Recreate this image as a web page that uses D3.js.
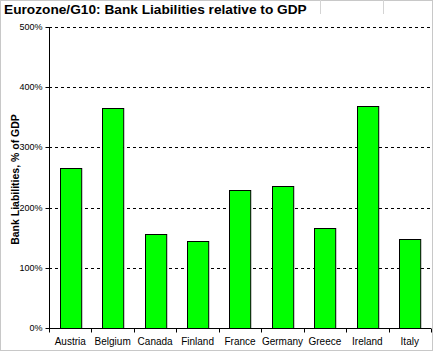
<!DOCTYPE html>
<html><head><meta charset="utf-8">
<script src="https://cdn.jsdelivr.net/npm/d3@7"></script>
<style>body{margin:0;background:#fff}svg{display:block}</style>
</head><body>
<script>
const categories = ["Austria","Belgium","Canada","Finland","France","Germany","Greece","Ireland","Italy"];
const values = [266, 365, 156, 145, 230, 236, 166, 369, 148];
const yTicks = [0, 100, 200, 300, 400, 500];
const title = "Eurozone/G10: Bank Liabilities relative to GDP";
const yTitle = "Bank Liabilities, % of GDP";

const W = 434, H = 352;
const m = {left: 49, right: 3, top: 27, bottom: 24};
const svg = d3.select("body").append("svg").attr("width", W).attr("height", H);

// frame
svg.append("rect").attr("x",0.5).attr("y",0.5).attr("width",432).attr("height",350)
  .attr("fill","#fff").attr("stroke","#c8c8c8");
svg.append("line").attr("x1",320.5).attr("x2",320.5).attr("y1",0).attr("y2",14).attr("stroke","#d4d4d4");
svg.append("line").attr("x1",383.5).attr("x2",383.5).attr("y1",0).attr("y2",14).attr("stroke","#d4d4d4");

const x = d3.scaleBand().domain(categories).range([m.left, W - m.right]).paddingInner(0.5).paddingOuter(0.25);
const y = d3.scaleLinear().domain([0, 500]).range([H - m.bottom - 0, m.top]);

// gridlines
svg.append("g").selectAll("line").data(yTicks.filter(d => d > 0)).join("line")
  .attr("x1", m.left).attr("x2", W - m.right)
  .attr("y1", d => Math.round(y(d)) + 0.5).attr("y2", d => Math.round(y(d)) + 0.5)
  .attr("stroke", "#000").attr("stroke-dasharray", "3,3");

// bars
svg.append("g").selectAll("rect").data(values).join("rect")
  .attr("x", (d, i) => Math.round(x(categories[i])) + 0.5)
  .attr("y", d => Math.round(y(d)) + 0.5)
  .attr("width", x.bandwidth())
  .attr("height", d => Math.round(y(0)) - Math.round(y(d)))
  .attr("fill", "#00ff00").attr("stroke", "#000").attr("stroke-width", 1);

// y axis
const yAxis = d3.axisLeft(y).tickValues(yTicks).tickSize(4).tickFormat(d => d + "%");
const gy = svg.append("g").attr("transform", `translate(${m.left + 0.5},0.5)`).call(yAxis);
gy.select(".domain").attr("d", `M0,${Math.round(y(500))}V${Math.round(y(0))}`);
gy.selectAll(".tick").attr("transform", d => `translate(0,${Math.round(y(d))})`);
gy.selectAll("text").attr("font-family","Arial, 'Liberation Sans', sans-serif").attr("font-size", 9).attr("x", -7);

// x axis
const xg = svg.append("g").attr("transform", `translate(0,${Math.round(y(0)) + 0.5})`);
xg.append("line").attr("x1", m.left).attr("x2", W - m.right).attr("stroke", "#000");
const bounds = d3.range(categories.length + 1).map(i => m.left + i * (W - m.right - m.left) / categories.length);
xg.selectAll("line.t").data(bounds).join("line").attr("class","t")
  .attr("x1", d => Math.round(d) + 0.5).attr("x2", d => Math.round(d) + 0.5).attr("y1", 0).attr("y2", 4).attr("stroke","#000");
xg.selectAll("text").data(categories).join("text")
  .attr("x", d => x(d) + x.bandwidth() / 2).attr("y", 16)
  .attr("text-anchor", "middle")
  .attr("font-family","Arial, 'Liberation Sans', sans-serif").attr("font-size", 10)
  .text(d => d);

// titles
svg.append("text").attr("x", 4).attr("y", 14)
  .attr("font-family","Arial, 'Liberation Sans', sans-serif").attr("font-weight","bold").attr("font-size", 13.7)
  .text(title);
svg.append("text").attr("transform", `translate(19,${(y(0) + y(500)) / 2 + 2}) rotate(-90)`)
  .attr("text-anchor","middle")
  .attr("font-family","Arial, 'Liberation Sans', sans-serif").attr("font-weight","bold").attr("font-size", 10.5)
  .text(yTitle);
</script>
</body></html>
